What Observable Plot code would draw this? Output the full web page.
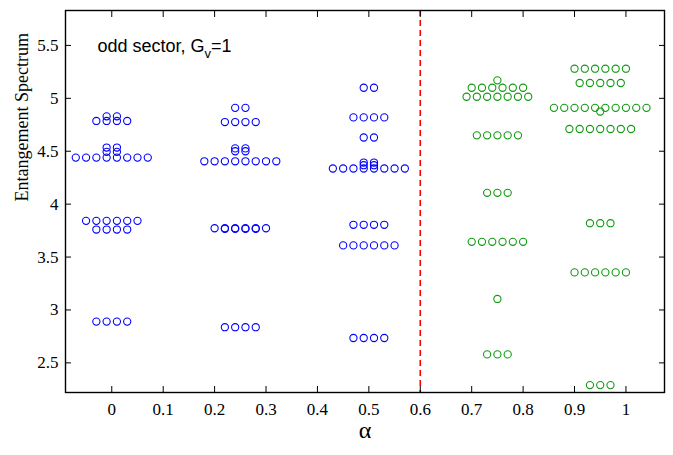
<!DOCTYPE html>
<html><head><meta charset="utf-8">
<script src="https://cdn.jsdelivr.net/npm/d3@7"></script>
<script src="https://cdn.jsdelivr.net/npm/@observablehq/plot@0.6"></script>
<style>
html,body{margin:0;padding:0;background:#fff}
svg{display:block}
</style>
</head><body><div id="chart"></div>
<script>
// alpha values of each group of levels
const alphas = [0, 0.25, 0.5, 0.75, 0.95];
// entanglement levels (value) and their degeneracy (number of circles drawn side by side)
const levels0  = [4.83, 4.786, 4.535, 4.494, 4.44, 3.842, 3.76, 2.89];
const degen0   = [2, 4, 2, 2, 8, 6, 4, 4];
const levels25 = [4.91, 4.776, 4.527, 4.50, 4.405, 3.772, 3.766, 2.837];
const degen25  = [2, 4, 2, 2, 8, 6, 4, 4];
const levels50 = [5.10, 4.82, 4.63, 4.393, 4.368, 4.337, 3.805, 3.61, 2.735];
const degen50  = [2, 4, 2, 2, 2, 8, 4, 6, 4];
const levels75 = [5.17, 5.10, 5.015, 4.65, 4.107, 3.644, 3.104, 2.58];
const degen75  = [1, 6, 7, 5, 3, 6, 1, 3];
const levels95 = [5.28, 5.145, 4.91, 4.875, 4.71, 3.82, 3.355, 2.29];
const degen95  = [6, 5, 10, 1, 7, 3, 6, 3];
const groupColor = ["blue", "blue", "blue", "green", "green"];

const xTicks = [0, 0.1, 0.2, 0.3, 0.4, 0.5, 0.6, 0.7, 0.8, 0.9, 1];
const xTickLabels = ["0", "0.1", "0.2", "0.3", "0.4", "0.5", "0.6", "0.7", "0.8", "0.9", "1"];
const yTicks = [2.5, 3, 3.5, 4, 4.5, 5, 5.5];
const yTickLabels = ["2.5", "3", "3.5", "4", "4.5", "5", "5.5"];
const criticalAlpha = [0.6];
const xLabel = ["\u03b1"];
const yLabel = ["Entangement Spectrum"];
const annotation = ["odd sector, G"];

const allLevels = [levels0, levels25, levels50, levels75, levels95];
const allDegen = [degen0, degen25, degen50, degen75, degen95];
const spread = 0.02; // horizontal spacing of degenerate circles
const points = [];
alphas.forEach((a, k) => {
  allLevels[k].forEach((v, j) => {
    const n = allDegen[k][j];
    for (let i = 0; i < n; i++) {
      points.push({x: a + (i - (n - 1) / 2) * spread, value: v, group: groupColor[k]});
    }
  });
});

const xLab = new Map(xTicks.map((t, i) => [t, xTickLabels[i]]));
const yLab = new Map(yTicks.map((t, i) => [t, yTickLabels[i]]));
const serif = "'Liberation Serif', 'Times New Roman', Times, serif";

const chart = Plot.plot({
  width: 673, height: 455,
  marginLeft: 65, marginRight: 9, marginTop: 10, marginBottom: 63,
  style: {fontSize: "16px", color: "black", background: "white"},
  x: {domain: [-0.09, 1.075]},
  y: {domain: [2.22, 5.83]},
  marks: [
    Plot.ruleX(criticalAlpha, {stroke: "#ff0000", strokeWidth: 1.6, strokeDasharray: "6,4"}),
    Plot.dot(points.filter(d => d.group === "blue"), {x: "x", y: "value", r: 3.6, stroke: "#0000ff", strokeWidth: 1.1}),
    Plot.dot(points.filter(d => d.group === "green"), {x: "x", y: "value", r: 3.6, stroke: "#119911", strokeWidth: 1.1}),
    Plot.axisX(xTicks, {anchor: "bottom", tickSize: -6, tickPadding: 16, tickFormat: d => xLab.get(d), label: null, fontSize: 17}),
    Plot.axisX(xTicks, {anchor: "top", tickSize: -6, tickFormat: () => "", label: null}),
    Plot.axisY(yTicks, {anchor: "left", tickSize: -6, tickPadding: 13, tickFormat: d => yLab.get(d), label: null, fontSize: 17}),
    Plot.axisY(yTicks, {anchor: "right", tickSize: -6, tickFormat: () => "", label: null}),
    Plot.frame({stroke: "black", strokeWidth: 1.4}),
    Plot.text(xLabel, {text: d => d, frameAnchor: "bottom", dy: 38, fontSize: 24, lineAnchor: "middle"}),
    Plot.text(yLabel, {text: d => d, frameAnchor: "left", dx: -43, rotate: -90, fontSize: 18, lineAnchor: "middle"}),
    Plot.text(annotation, {text: d => d, frameAnchor: "top-left", dx: 32, dy: 36, textAnchor: "start", lineAnchor: "middle",
      fontSize: 18, className: "anno"})
  ]
});
document.getElementById("chart").appendChild(chart);

// fonts: Times-like serif for axes, Helvetica-like sans for the annotation
const svg = d3.select(chart);
svg.selectAll("text").style("font-family", serif);
const t = svg.select(".anno text").style("font-family", "'Liberation Sans', Arial, Helvetica, sans-serif");
// subscript "v" and "=1" of the annotation
t.append("tspan").attr("dy", 6).attr("font-size", 13).text("v");
t.append("tspan").attr("dy", -6).attr("font-size", 18).text("=1");
</script>
</body></html>
